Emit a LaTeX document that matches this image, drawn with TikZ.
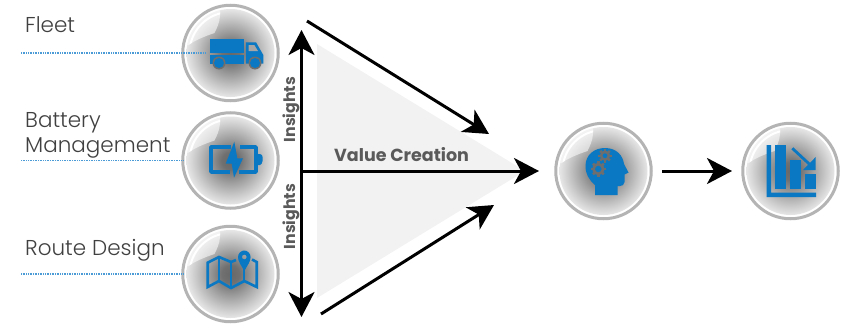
\documentclass[tikz,border=0pt]{standalone}
\usepackage{fontspec}
\setmainfont{Poppins}
\newfontfamily\lightfont{Poppins Light}
\usetikzlibrary{arrows.meta}
\definecolor{iconblue}{HTML}{0A78C2}
\definecolor{dotblue}{HTML}{4A9BD6}
\definecolor{ringgray}{HTML}{B4B4B4}
\definecolor{labelgray}{HTML}{404040}
\definecolor{boldgray}{HTML}{5A5A5A}
\definecolor{tri}{HTML}{F2F2F2}
\definecolor{gearfill}{HTML}{6E6E6E}
\definecolor{shadea}{HTML}{686868}
\definecolor{shadeb}{HTML}{707070}
\definecolor{shadec}{HTML}{9E9E9E}
\definecolor{shaded}{HTML}{CACACA}
\definecolor{shadee}{HTML}{E6E6E6}
\pgfdeclareradialshading{ballshade}{\pgfpoint{0bp}{0bp}}{
  color(0bp)=(shadea);
  color(5bp)=(shadeb);
  color(12.5bp)=(shadec);
  color(20bp)=(shaded);
  color(25bp)=(shadee);
  color(50bp)=(shadee)}
\tikzset{
  x=1pt,y=-1pt,
  ballring/.style={circle,draw=ringgray,line width=3pt,fill=white,minimum size=95.5pt,inner sep=0pt,outer sep=0pt},
  ballcore/.style={circle,shading=ballshade,minimum size=88pt,inner sep=0pt,outer sep=0pt},
  sheen/.style={fill=white,fill opacity=.55},
  bigarrow/.style={line width=3pt,black,-{Stealth[length=25pt,width=26pt,inset=7pt]}},
  bigboth/.style={line width=3pt,black,{Stealth[length=25pt,width=26pt,inset=7pt]}-{Stealth[length=25pt,width=26pt,inset=7pt]}},
  dotline/.style={dotblue,line width=1.3pt,dash pattern=on 1pt off .7pt},
  label/.style={font=\lightfont\fontsize{21.5}{25}\selectfont,text=labelgray,anchor=base west,inner sep=0pt},
  boldlabel/.style={font=\bfseries\fontsize{17.5}{20}\selectfont,text=boldgray,inner sep=0pt},
  sidelabel/.style={font=\bfseries\fontsize{15.8}{18}\selectfont,text=boldgray,inner sep=0pt,rotate=90,anchor=base},
  iconfill/.style={fill=iconblue,draw=none},
  iconline/.style={draw=iconblue,line width=3.5pt},
}
\newcommand{\glassball}[3]{
  \node[ballring] (#1) at (#2,#3) {};
  \node[ballcore] (#1core) at (#2,#3) {};
  \begin{scope}[shift={(#2,#3)}]
    \clip (0,0) circle[radius=44];
    \clip (-10.5,-60) -- (-10.5,-37)
      .. controls (-11,-30) and (-14,-24) .. (-16,-20)
      .. controls (-25,-17) and (-35,-13) .. (-42,-8)
      -- (-60,-4) -- (-60,-60) -- cycle;
    \fill[sheen] (-60,-60) rectangle (0,0);
    \draw[white,line width=2pt] (0,0) circle[radius=41];
  \end{scope}
}
\begin{document}
\begin{tikzpicture}
\useasboundingbox (0,0) rectangle (843,324);
% triangle
\fill[tri] (317,44) -- (525,171) -- (317,298) -- cycle;
% balls
\glassball{fleetball}{230.5}{53}
\glassball{batteryball}{230.5}{160.5}
\glassball{routeball}{230.5}{274}
\glassball{headball}{603.5}{171}
\glassball{chartball}{790.5}{171}
% labels
\node[label] (fleetlabel) at (25,32) {Fleet};
\node[label] (batterylabel) at (25,127) {Battery};
\node[label] (mgmtlabel) at (25,152.5) {Management};
\node[label] (routelabel) at (25,255.5) {Route Design};
\node[boldlabel,anchor=base west] (valuelabel) at (334,161) {Value Creation};
\node[sidelabel] (insightsup) at (295,109.5) {Insights};
\node[sidelabel] (insightsdown) at (295,216.5) {Insights};
% truck
\fill[iconfill] (210,38.5) rectangle (244.3,53.3);
\fill[iconfill] (210,55) rectangle (244.3,63.5);
\fill[iconfill] (245.8,42.3) -- (256,42.3) -- (263.3,55) -- (263.3,63.5) -- (245.8,63.5) -- cycle;
\fill[black!35] (248.5,45) -- (254.3,45) -- (258,51) -- (248.5,51) -- cycle;
\fill[gearfill] (219,63) circle[radius=6.5];
\fill[gearfill] (255,63) circle[radius=6.5];
\fill[iconfill] (219,63) circle[radius=5];
\fill[iconfill] (255,63) circle[radius=5];
% dotted connectors
\coordinate (fleetstart) at (21,53);
\coordinate (truckend) at (206,53);
\coordinate (batterystart) at (21,160.5);
\coordinate (routestart) at (21,274);
\draw[dotline] (fleetstart) -- (truckend);
\draw[dotline] (batterystart) -- (batteryball.west);
\draw[dotline] (routestart) -- (routeball.west);
% battery
\draw[iconline,line join=round] (231,147) -- (211,147) -- (211,172) -- (229.5,172);
\draw[iconline,line join=round] (240,147) -- (256,147) -- (256,172) -- (239,172);
\fill[iconfill] (258,154) -- (260,154) .. controls (262,154) and (262.5,156) .. (262.5,157) -- (262.5,161) .. controls (262.5,163) and (261,165) .. (260,165) -- (258,165) -- cycle;
\fill[iconfill] (234.3,141.7) -- (225.7,163.7) -- (231.7,163.7) -- (234,177.7) -- (243,158.3) -- (237.3,158.3) -- cycle;
% map
\draw[draw=iconblue,line width=2.6pt,line join=miter]
  (236,260) -- (231,262) -- (219,257) -- (207.7,262.7) -- (207.7,287) -- (219,281) -- (231,288) -- (244.3,281) -- (256.7,287) -- (256.7,262) -- (252,259.5);
\draw[draw=iconblue,line width=2.2pt] (219,257) -- (219,281);
\draw[draw=iconblue,line width=2.2pt] (231,262) -- (231,288);
\draw[draw=iconblue,line width=2.2pt] (244.3,268) -- (244.3,281);
\fill[iconfill,even odd rule] (244.3,271) .. controls (241,265) and (238,261.5) .. (238,257)
  .. controls (238,253.5) and (241,250.5) .. (244.3,250.5)
  .. controls (247.6,250.5) and (250.6,253.5) .. (250.6,257)
  .. controls (250.6,261.5) and (247.6,265) .. (244.3,271) -- cycle (244.3,257) circle[radius=2.4];
% head
\fill[iconfill] (595,195) -- (595,185) .. controls (589,180) and (585.5,174) .. (585.5,166)
  .. controls (585.5,155) and (594,148) .. (605,148)
  .. controls (617,148) and (623,156) .. (624,164) -- (628.5,172.5) -- (624.5,174.5) -- (624.5,182)
  .. controls (624.5,185) and (622,186) .. (620,186) -- (617.7,186) -- (617.7,195) -- cycle;
\foreach \cx/\cy/\r in {605/155.7/4.6,598.3/169/5.4}{
  \foreach \a in {0,45,...,315}
    \draw[gearfill,line width=2.4pt] (\cx,\cy) ++(\a:\r) -- ++(\a:2.2);
  \fill[gearfill] (\cx,\cy) circle[radius=\r+.6];
  \fill[iconfill] (\cx,\cy) circle[radius=\r-2.2];
}
% chart
\fill[iconfill] (766.7,145) -- (771,145) -- (771,192.5) -- (816,192.5) -- (816,197) -- (766.7,197) -- cycle;
\fill[iconfill] (775,145) rectangle (786,189);
\fill[iconfill] (790,160) rectangle (801,189);
\fill[iconfill] (805,174) rectangle (815.7,189);
\draw[iconline,line width=2.8pt] (792.3,148.3) -- (813.5,168);
\fill[iconfill] (815.7,170) -- (803,170) -- (815.7,157) -- cycle;
% arrows
\coordinate (vtop) at (301.5,30);
\coordinate (vbot) at (301.5,317);
\coordinate (hstart) at (301.5,171);
\coordinate (hend) at (539,171);
\coordinate (d1s) at (307,21);
\coordinate (d1e) at (489,134);
\coordinate (d2s) at (321,314);
\coordinate (d2e) at (494,205);
\draw[bigboth] (vtop) -- (vbot);
\draw[bigarrow] (hstart) -- (hend);
\draw[bigarrow] (d1s) -- (d1e);
\draw[bigarrow] (d2s) -- (d2e);
\draw[bigarrow] ([xshift=10.75pt]headball.east) -- ([xshift=-10.75pt]chartball.west);
\end{tikzpicture}
\end{document}
